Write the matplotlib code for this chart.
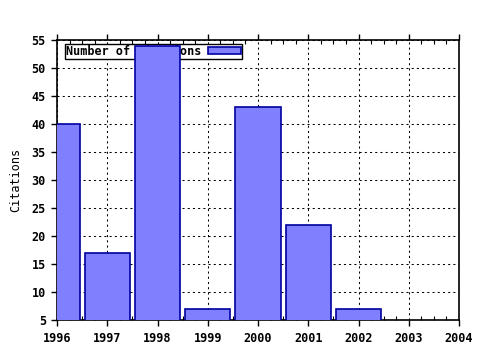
import matplotlib
matplotlib.use('Agg')
import matplotlib.pyplot as plt
from matplotlib.ticker import MultipleLocator

years = [1996, 1997, 1998, 1999, 2000, 2001, 2002]
citations = [40, 17, 54, 7, 43, 22, 7]
year_ticks = [1996, 1997, 1998, 1999, 2000, 2001, 2002, 2003, 2004]

plt.rcParams['font.family'] = 'DejaVu Sans Mono'
plt.rcParams['font.weight'] = 'bold'
plt.rcParams['font.size'] = 8.5

fig = plt.figure(figsize=(4.8, 3.5), dpi=100)
ax = fig.add_axes([57 / 480, 1 - 320 / 350, (459 - 57) / 480, (320 - 40) / 350])

ax.bar(years, citations, width=0.9, bottom=0, color='#8080ff',
       edgecolor='#0000a0', linewidth=1.2, label='Number of citations', zorder=3)

ax.set_xlim(1996, 2004)
ax.set_ylim(5, 55)
ax.set_xticks(year_ticks)
ax.xaxis.set_minor_locator(MultipleLocator(0.25))
ax.yaxis.set_major_locator(MultipleLocator(5))

ax.grid(True, which='major', color='black', linestyle=(0, (2, 3)), linewidth=0.75, zorder=1)
ax.tick_params(axis='x', which='major', direction='out', length=4, top=True, width=1, pad=5)
ax.tick_params(axis='x', which='minor', direction='in', length=3, top=True, width=0.8)
ax.tick_params(axis='y', which='major', direction='out', length=4, width=1, pad=4)
for sp in ax.spines.values():
    sp.set_linewidth(1.2)

ax.set_ylabel('Citations', labelpad=7)

leg = ax.legend(loc='upper left', markerfirst=False, fancybox=False, framealpha=1,
                edgecolor='black', borderpad=0.1, borderaxespad=0.3,
                handlelength=2.8, handleheight=0.55, handletextpad=0.6,
                bbox_to_anchor=(0.01, 1.0))
leg.get_frame().set_linewidth(1.0)
leg.set_zorder(2)

fig.savefig('out.png', dpi=100)
